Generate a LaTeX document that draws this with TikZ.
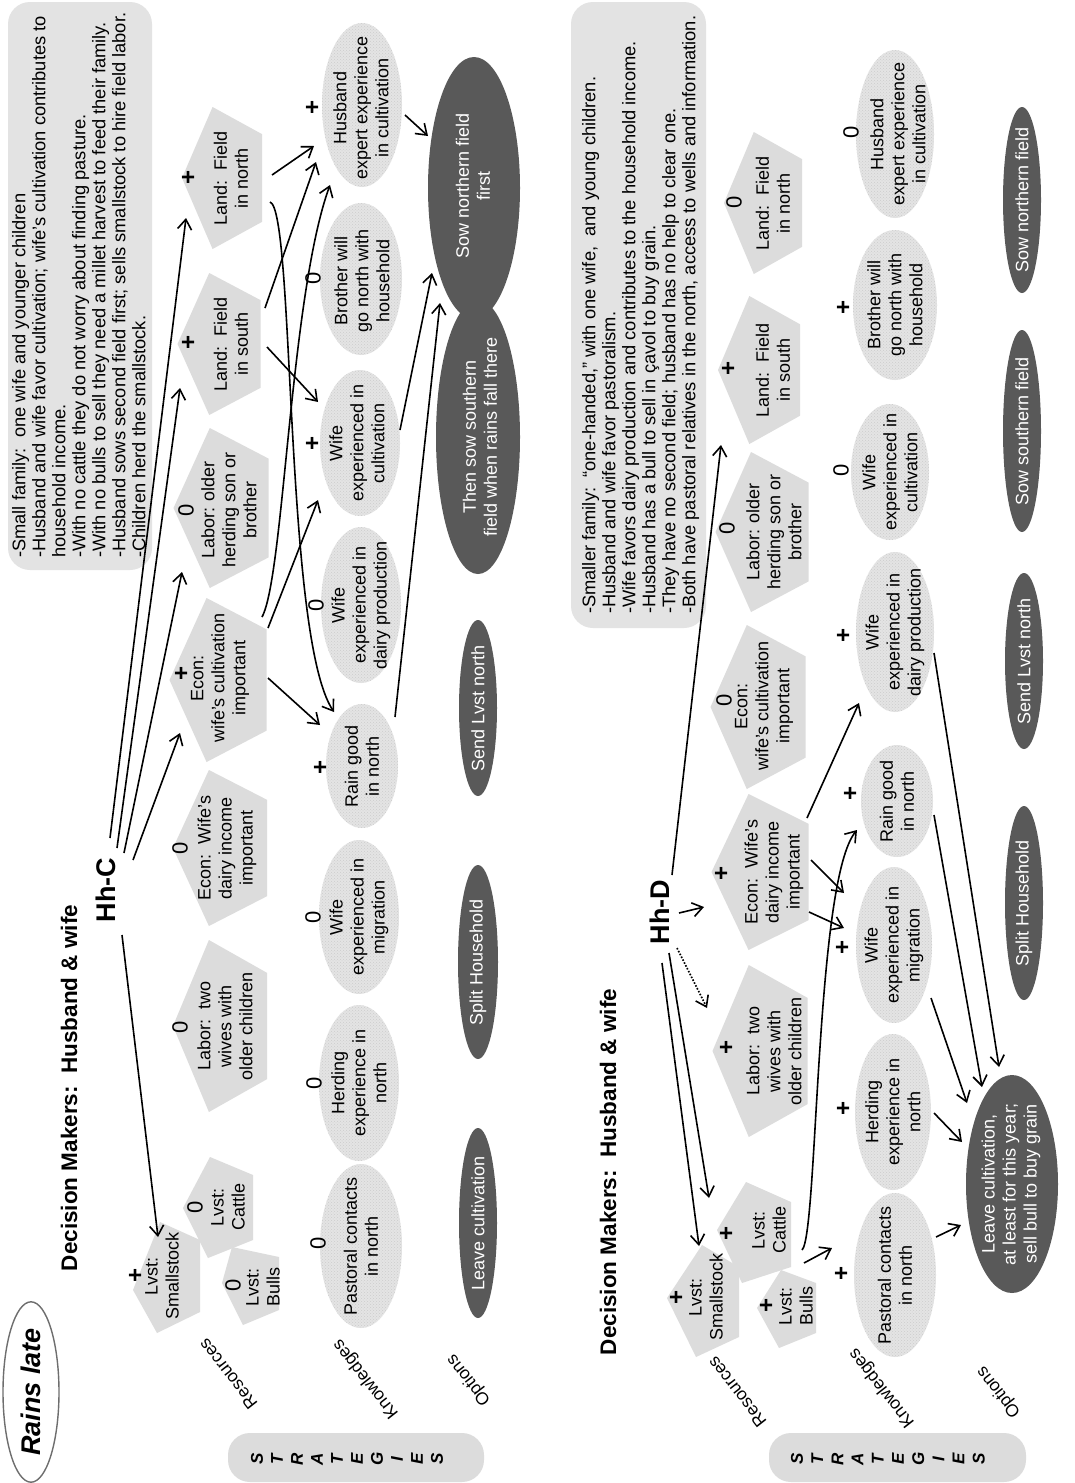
\documentclass[tikz,border=0pt]{standalone}
\usepackage{fontspec}
\setmainfont{Liberation Sans}
\usetikzlibrary{arrows.meta,calc,patterns,shapes.geometric}

\definecolor{penfill}{HTML}{DCDCDC}
\definecolor{notefill}{HTML}{E3E3E3}
\definecolor{knfill}{HTML}{E4E4E4}
\definecolor{optfill}{HTML}{595959}
\definecolor{ringcol}{HTML}{6E6E6E}

% pentagon pointing left: centre x, centre y, half width, depth
\newcommand\pentshape[4]{%
  \fill[penfill] ({#1-#4/2},#2) -- ({#1-0.118*#4},{#2-#3}) -- ({#1+#4/2},{#2-0.618*#3})
    -- ({#1+#4/2},{#2+0.618*#3}) -- ({#1-0.118*#4},{#2+#3}) -- cycle;}
% textured knowledge ellipse
\newcommand\knell[4]{%
  \fill[knfill] (#1,#2) ellipse [x radius=#3, y radius=#4];
  \fill[pattern=crosshatch dots, pattern color=black!20] (#1,#2) ellipse [x radius=#3, y radius=#4];}
% dark option ellipse
\newcommand\opell[4]{\fill[optfill] (#1,#2) ellipse [x radius=#3, y radius=#4];}

\tikzset{
  lbl/.style={rotate=90, align=center, inner sep=0pt, font=\fontsize{18}{21}\selectfont},
  optlbl/.style={lbl, text=white},
  sgnplus/.style={rotate=90, inner sep=0pt, font=\fontsize{24}{24}\selectfont\bfseries},
  sgnzero/.style={rotate=90, inner sep=0pt, font=\fontsize{22}{22}\selectfont},
  notetxt/.style={rotate=90, anchor=north west, align=left, inner sep=0pt, font=\fontsize{18.3}{20}\selectfont},
  headtxt/.style={rotate=90, inner sep=0pt, font=\fontsize{22.5}{27}\selectfont\bfseries},
  hhtxt/.style={rotate=90, inner sep=0pt, font=\fontsize{27}{30}\selectfont\bfseries},
  colhead/.style={rotate=128, inner sep=0pt, font=\fontsize{17.5}{20}\selectfont},
  stratl/.style={rotate=90, inner sep=0pt, font=\fontsize{17}{20}\selectfont\bfseries\itshape},
  arr/.style={line width=1.6pt, -{Straight Barb[length=10pt,width=14pt,line width=1.6pt]}},
  darr/.style={arr, dash pattern=on 1.6pt off 1.6pt},
}

\begin{document}
\begin{tikzpicture}[x=1pt,y=-1pt]
\useasboundingbox (0,0) rectangle (1074,1483);
\fill[white] (0,0) rectangle (1074,1483);

% ---------- scenario label ----------
\node[ellipse, draw=ringcol, line width=1.4pt, minimum width=176pt, minimum height=56pt,
      inner sep=0pt, rotate=90, font=\fontsize{27}{30}\selectfont\bfseries\itshape] (rainsl) at (31,1392) {Rains late};

% ---------- strategy boxes ----------
\fill[penfill, rounded corners=22pt] (228,1433) rectangle (484,1482);
\foreach \l [count=\i from 0] in {S,T,R,A,T,E,G,I,E,S}
  \node[stratl] (sC\i) at ({257+20*\i},1459) {\l};
\fill[penfill, rounded corners=22pt] (769,1433) rectangle (1026,1482);
\foreach \l [count=\i from 0] in {S,T,R,A,T,E,G,I,E,S}
  \node[stratl] (sD\i) at ({797+20.2*\i},1459) {\l};

% ---------- column heads ----------
\node[colhead] (resC) at (228,1374) {Resources};
\node[colhead] (knoC) at (366,1379) {Knowledges};
\node[colhead] (optC) at (469,1380) {Options};
\node[colhead] (resD) at (737,1392) {Resources};
\node[colhead] (knoD) at (882,1388) {Knowledges};
\node[colhead] (optD) at (999,1392) {Options};

% ---------- household notes ----------
\fill[notefill, rounded corners=22pt] (8,2) rectangle (152,570);
\node[notetxt] (noteC) at (12,558) {-Small family:\ \ one wife and younger children\\
-Husband and wife favor cultivation; wife’s cultivation contributes to\\
household income.\\
-With no cattle they do not worry about finding pasture.\\
-With no bulls to sell they need a millet harvest to feed their family.\\
-Husband sows second field first; sells smallstock to hire field labor.\\
-Children herd the smallstock.};
\fill[notefill, rounded corners=22pt] (571,2) rectangle (706,628);
\node[notetxt] (noteD) at (582,614) {-Smaller family:\ \ “one-handed,” with one wife,\ \ and young children.\\
-Husband and wife favor pastoralism.\\
-Wife favors dairy production and contributes to the household income.\\
-Husband has a bull to sell in çavol to buy grain.\\
-They have no second field; husband has no help to clear one.\\
-Both have pastoral relatives in the north, access to wells and information.};

% ---------- headings ----------
\node[headtxt] (dmC) at (69,1088) {Decision Makers:\ \ Husband \& wife};
\node[headtxt] (dmD) at (608,1172) {Decision Makers:\ \ Husband \& wife};
\node[hhtxt] (hhc) at (106,890) {Hh-C};
\node[hhtxt] (hhd) at (660,912) {Hh-D};

% ================= Hh-C =================
% resources
\pentshape{222}{178}{71}{80}
\node[lbl] (landN) at (231,178) {Land:\ \ Field\\in north};
\node[sgnplus] (landNs) at (189,177) {+};
\pentshape{219}{344}{71}{83}
\node[lbl] (landS) at (231,344) {Land:\ \ Field\\in south};
\node[sgnplus] (landSs) at (189,342) {+};
\pentshape{221}{508}{80}{95}
\node[lbl] (laborO) at (229,510) {Labor: older\\herding son or\\brother};
\node[sgnzero] (laborOs) at (186,510) {0};
\pentshape{218}{680}{82}{97}
\node[lbl] (econC) at (220,678) {Econ:\\wife’s cultivation\\important};
\node[sgnplus] (econCs) at (182,673) {+};
\pentshape{220}{848}{78}{94}
\node[lbl] (econD) at (227,848) {Econ:\ \ Wife’s\\dairy income\\important};
\node[sgnzero] (econDs) at (180,848) {0};
\pentshape{220}{1026}{86}{94}
\node[lbl] (laborT) at (225,1026) {Labor:\ \ two\\wives with\\older children};
\node[sgnzero] (laborTs) at (180,1027) {0};
\fill[penfill] (133,1290) -- (160,1222) -- (200,1240) -- (200,1312) -- (157,1333) -- cycle;
\fill[penfill] (183,1208) -- (210,1157) -- (253,1175) -- (253,1240) -- (208,1258) -- cycle;
\fill[penfill] (222,1283) -- (232,1247) -- (279,1257) -- (279,1310) -- (243,1325) -- cycle;
\node[lbl] (lvstS) at (162,1276) {Lvst:\\Smallstock};
\node[sgnplus] (lvstSs) at (136,1275) {+};
\node[lbl] (lvstC) at (228,1207) {Lvst:\\Cattle};
\node[sgnzero] (lvstCs) at (195,1207) {0};
\node[lbl] (lvstB) at (263,1287) {Lvst:\\Bulls};
\node[sgnzero] (lvstBs) at (233,1285) {0};

% knowledges
\knell{362}{105}{40}{82}
\node[lbl] (husb) at (361,108) {Husband\\expert experience\\in cultivation};
\node[sgnplus] (husbs) at (313,107) {+};
\knell{361}{279}{41}{76}
\node[lbl] (broth) at (362,281) {Brother will\\go north with\\household};
\node[sgnzero] (broths) at (313,278) {0};
\knell{360}{443}{40}{73}
\node[lbl] (wifeC) at (357,443) {Wife\\experienced in\\cultivation};
\node[sgnplus] (wifeCs) at (313,443) {+};
\knell{361}{605}{40}{78}
\node[lbl] (wifeD) at (361,605) {Wife\\experienced in\\dairy production};
\node[sgnzero] (wifeDs) at (316,605) {0};
\knell{362}{766}{36}{62}
\node[lbl] (rain) at (362,766) {Rain good\\in north};
\node[sgnplus] (rainCs) at (321,767) {+};
\knell{359}{917}{40}{77}
\node[lbl] (wifeM) at (359,917) {Wife\\experienced in\\migration};
\node[sgnzero] (wifeMs) at (313,917) {0};
\knell{359}{1083}{40}{78}
\node[lbl] (herd) at (359,1083) {Herding\\experience in\\north};
\node[sgnzero] (herds) at (314,1083) {0};
\knell{361}{1246}{41}{82}
\node[lbl] (past) at (361,1246) {Pastoral contacts\\in north};
\node[sgnzero] (pasts) at (318,1243) {0};

% options
\opell{478}{437}{42}{137}
\opell{474}{188}{46}{131}
\node[optlbl] (thenS) at (480,437) {Then sow southern\\field when rains fall there};
\node[optlbl] (sowN1) at (473,186) {Sow northern field\\first};
\opell{478}{708}{19}{88}
\node[optlbl] (sendL) at (478,708) {Send Lvst north};
\opell{478}{962}{20}{97}
\node[optlbl] (split) at (478,962) {Split Household};
\opell{478}{1223}{19}{95}
\node[optlbl] (leave) at (478,1223) {Leave cultivation};

% connectors
\draw[arr] ($(hhc)+(16,45)$) -- ($(lvstS)+(-4,-39)$);
\draw[arr] ($(hhc)+(27,-30)$) -- ($(econC)+(-40,55)$);
\draw[arr] ($(hhc)+(18,-37)$) -- ($(laborO)+(-47,62)$);
\draw[arr] ($(hhc)+(11,-42)$) -- ($(landS)+(-51,44)$);
\draw[arr] ($(hhc)+(4,-52)$) -- ($(landN)+(-45,40)$);
\draw[arr] ($(landN)+(41,-3)$) -- ($(husb)+(-47,38)$);
\draw[arr] ($(landN)+(39,24)$) .. controls +(25,8) and +(-50,-75) .. ($(rain)+(-28,-54)$);
\draw[arr] ($(landS)+(34,-36)$) -- ($(husb)+(-45,54)$);
\draw[arr] ($(landS)+(36,3)$) -- ($(wifeC)+(-39,-41)$);
\draw[arr] ($(econC)+(48,0)$) -- ($(rain)+(-42,-41)$);
\draw[arr] ($(econC)+(48,-50)$) -- ($(wifeC)+(-39,57)$);
\draw[arr] ($(econC)+(42,-61)$) .. controls +(22,-40) and +(-40,110) .. ($(husb)+(-31,77)$);
\draw[arr] ($(husb)+(44,7)$) -- ($(sowN1)+(-45,-50)$);
\draw[arr] ($(rain)+(33,-49)$) -- ($(sowN1)+(-33,117)$);
\draw[arr] ($(wifeC)+(43,-13)$) -- ($(sowN1)+(-41,87)$);

% ================= Hh-D =================
% resources
\pentshape{763}{203}{71}{78}
\node[lbl] (landND) at (773,203) {Land:\ \ Field\\in north};
\node[sgnzero] (landNDs) at (734,202) {0};
\pentshape{759}{370}{74}{82}
\node[lbl] (landSD) at (773,370) {Land:\ \ Field\\in south};
\node[sgnplus] (landSDs) at (729,368) {+};
\pentshape{762}{532}{80}{93}
\node[lbl] (laborOD) at (774,532) {Labor: older\\herding son or\\brother};
\node[sgnzero] (laborODs) at (727,528) {0};
\pentshape{758}{707}{82}{95}
\node[lbl] (econCD) at (764,706) {Econ:\\wife’s cultivation\\important};
\node[sgnzero] (econCDs) at (724,700) {0};
\pentshape{760}{872}{78}{97}
\node[lbl] (econDD) at (774,872) {Econ:\ \ Wife’s\\dairy income\\important};
\node[sgnplus] (econDDs) at (722,873) {+};
\pentshape{760}{1051}{86}{95}
\node[lbl] (laborTD) at (774,1051) {Labor:\ \ two\\wives with\\older children};
\node[sgnplus] (laborTDs) at (727,1047) {+};
\fill[penfill] (667,1298) -- (702,1245) -- (739,1267) -- (739,1337) -- (696,1357) -- cycle;
\fill[penfill] (717,1230) -- (746,1182) -- (791,1202) -- (791,1267) -- (742,1283) -- cycle;
\fill[penfill] (757,1308) -- (781,1270) -- (816,1283) -- (816,1333) -- (779,1348) -- cycle;
\node[lbl] (lvstSD) at (706,1297) {Lvst:\\Smallstock};
\node[sgnplus] (lvstSDs) at (677,1297) {+};
\node[lbl] (lvstCD) at (769,1230) {Lvst:\\Cattle};
\node[sgnplus] (lvstCDs) at (727,1233) {+};
\node[lbl] (lvstBD) at (796,1306) {Lvst:\\Bulls};
\node[sgnplus] (lvstBDs) at (767,1305) {+};

% knowledges
\knell{895}{134}{39}{84}
\node[lbl] (husbD) at (898,134) {Husband\\expert experience\\in cultivation};
\node[sgnzero] (husbDs) at (851,132) {0};
\knell{895}{305}{42}{75}
\node[lbl] (brothD) at (895,305) {Brother will\\go north with\\household};
\node[sgnplus] (brothDs) at (844,307) {+};
\knell{890}{472}{39}{68}
\node[lbl] (wifeCD) at (890,472) {Wife\\experienced in\\cultivation};
\node[sgnzero] (wifeCDs) at (841,470) {0};
\knell{895}{632}{39}{80}
\node[lbl] (wifeDD) at (895,632) {Wife\\experienced in\\dairy production};
\node[sgnplus] (wifeDDs) at (844,635) {+};
\knell{897}{801}{36}{56}
\node[lbl] (rainD) at (897,801) {Rain good\\in north};
\node[sgnplus] (rainDs) at (851,793) {+};
\knell{894}{945}{38}{78}
\node[lbl] (wifeMD) at (894,945) {Wife\\experienced in\\migration};
\node[sgnplus] (wifeMDs) at (843,947) {+};
\knell{893}{1112}{38}{78}
\node[lbl] (herdD) at (893,1112) {Herding\\experience in\\north};
\node[sgnplus] (herdDs) at (844,1108) {+};
\knell{895}{1275}{41}{82}
\node[lbl] (pastD) at (895,1275) {Pastoral contacts\\in north};
\node[sgnplus] (pastDs) at (842,1273) {+};

% options
\opell{1022}{200}{19}{93}
\node[optlbl] (sowND) at (1022,200) {Sow northern field};
\opell{1022}{431}{19}{101}
\node[optlbl] (sowSD) at (1022,431) {Sow southern field};
\opell{1024}{661}{19}{88}
\node[optlbl] (sendLD) at (1024,661) {Send Lvst north};
\opell{1024}{903}{19}{97}
\node[optlbl] (splitD) at (1024,903) {Split Household};
\opell{1012}{1184}{46}{109}
\node[optlbl] (leaveD) at (1011,1184) {Leave cultivation,\\at least for this year;\\sell bull to buy grain};

% connectors
\draw[arr] ($(hhd)+(12,-37)$) -- ($(landSD)+(-52,75)$);
\draw[arr] ($(hhd)+(19,1)$) -- ($(econDD)+(-70,35)$);
\draw[darr] ($(hhd)+(17,36)$) -- ($(laborTD)+(-67,-43)$);
\draw[arr] ($(hhd)+(9,41)$) -- ($(lvstCD)+(-60,-32)$);
\draw[arr] ($(hhd)+(2,51)$) -- ($(lvstSD)+(-7,-51)$);
\draw[arr] ($(econDD)+(33,-54)$) -- ($(wifeDD)+(-36,71)$);
\draw[arr] ($(econDD)+(37,-12)$) -- ($(wifeMD)+(-50,-52)$);
\draw[arr] ($(econDD)+(35,40)$) -- ($(wifeMD)+(-50,-17)$);
\draw[arr] ($(lvstCD)+(33,20)$) .. controls +(16,-15) and +(-42,50) .. ($(rainD)+(-40,29)$);
\draw[arr] ($(lvstBD)+(8,-43)$) -- ($(pastD)+(-63,-27)$);
\draw[arr] ($(pastD)+(41,-38)$) -- ($(leaveD)+(-50,41)$);
\draw[arr] ($(herdD)+(41,1)$) -- ($(leaveD)+(-49,-42)$);
\draw[arr] ($(wifeMD)+(37,53)$) -- ($(leaveD)+(-44,-81)$);
\draw[arr] ($(rainD)+(37,14)$) -- ($(leaveD)+(-29,-97)$);
\draw[arr] ($(wifeDD)+(39,21)$) -- ($(leaveD)+(-12,-117)$);
\end{tikzpicture}
\end{document}
